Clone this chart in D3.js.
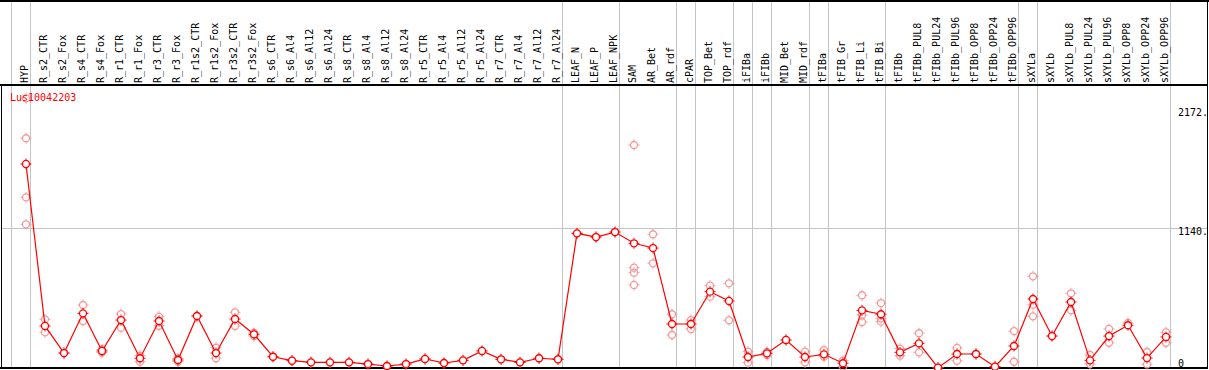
<!DOCTYPE html>
<html>
<head>
<meta charset="utf-8">
<script src="https://cdn.jsdelivr.net/npm/d3@7"></script>
<style>
  body { margin: 0; background: #fff; }
  svg { display: block; }
  text { font-family: "DejaVu Sans Mono", "Liberation Mono", monospace; font-size: 10px; }
</style>
</head>
<body>
<div id="chart"></div>
<script>

const width = 1209
const height = 370

const gene = "Lus10042203"

const samples = ["HYP", "R_s2_CTR", "R_s2_Fox", "R_s4_CTR", "R_s4_Fox", "R_r1_CTR", "R_r1_Fox",
    "R_r3_CTR", "R_r3_Fox", "R_r1s2_CTR", "R_r1s2_Fox", "R_r3s2_CTR", "R_r3s2_Fox",
    "R_s6_CTR", "R_s6_Al4", "R_s6_Al12", "R_s6_Al24", "R_s8_CTR", "R_s8_Al4", "R_s8_Al12", "R_s8_Al24",
    "R_r5_CTR", "R_r5_Al4", "R_r5_Al12", "R_r5_Al24", "R_r7_CTR", "R_r7_Al4", "R_r7_Al12", "R_r7_Al24",
    "LEAF_N", "LEAF_P", "LEAF_NPK", "SAM", "AR_Bet", "AR_rdf", "cPAR", "TOP_Bet", "TOP_rdf",
    "iFIBa", "iFIBb", "MID_Bet", "MID_rdf", "tFIBa", "tFIB_Gr", "tFIB_Li", "tFIB_Bi",
    "tFIBb", "tFIBb_PUL8", "tFIBb_PUL24", "tFIBb_PUL96", "tFIBb_OPP8", "tFIBb_OPP24", "tFIBb_OPP96",
    "sXYLa", "sXYLb", "sXYLb_PUL8", "sXYLb_PUL24", "sXYLb_PUL96", "sXYLb_OPP8", "sXYLb_OPP24", "sXYLb_OPP96"]

// mean expression per sample
const means = [1693, 294, 60, 403, 78, 345, 15,
    337, 0, 380, 60, 354, 222,
    28, -6, -20, -20, -20, -35, -52, -35,
    9, -26, -3, 78, 6, -20, 15, 6,
    1094, 1062, 1105, 1008, 967, 311, 311, 590, 510,
    26, 58, 173, 26, 49, -28, 429, 395,
    66, 144, -66, 52, 52, -58, 121,
    527, 207, 501, -3, 207, 300, 17, 199]

// single replicates (drawn faint)
const replicates = [
    [2260, 1915, 1405, 1172], [351, 239], [60], [475, 337], [91, 65], [397, 279], [37, -15],
    [374, 296], [13, -13], [380], [106, 15], [412, 294], [233, 207],
    [28], [-6], [-20], [-20], [-20], [-35], [-52], [-35],
    [9], [-26], [-3], [78], [6], [-20], [15], [6],
    [1094], [1062], [1105], [1857, 797, 754, 648], [1086, 835], [395, 216], [345, 268], [642, 547], [662, 343],
    [72, -23], [69, 43], [173], [72, -20], [86, 28], [-6, -58], [559, 389, 328], [492, 360, 331],
    [98, 37], [231, 66], [-66], [104, -6], [52], [-58], [250, -15],
    [723, 478, 377], [207], [576, 429], [43, -35], [268, 149], [320], [69, -37], [239, 149]]

// index of last sample in each group (-1 = left edge)
const groupEnds = [-1, 0, 28, 31, 34, 35, 37, 38, 39, 41, 42, 45, 52, 53, 60]

const yTicks = [2172, 1140, 0]

const headerH = 85
const plotBottom = 368

const x = d3.scalePoint()
    .domain(samples)
    .range([26, 1166])

const y = d3.scaleLinear()
    .domain([0, 1140])
    .range([360, 228])

const svg = d3.select("#chart")
    .append("svg")
    .attr("width", width)
    .attr("height", height)

const sepX = i => i < 0 ? x(samples[0]) - x.step() + 4.5 : x(samples[i]) + 4.5

// vertical group separators
svg.selectAll(".sep")
    .data(groupEnds)
    .enter()
    .append("line")
    .attr("x1", d => sepX(d))
    .attr("x2", d => sepX(d))
    .attr("y1", 0)
    .attr("y2", plotBottom)
    .attr("stroke", "#c4c4c4")
    .attr("stroke-width", 1)
    .attr("shape-rendering", "crispEdges")

// gridline at 1140
svg.append("line")
    .attr("x1", 1)
    .attr("x2", 1208)
    .attr("y1", Math.round(y(1140)) + 0.5)
    .attr("y2", Math.round(y(1140)) + 0.5)
    .attr("stroke", "#c4c4c4")
    .attr("shape-rendering", "crispEdges")

// frame
const frame = svg.append("g")
    .attr("stroke", "#000")
    .attr("stroke-width", 1.5)
    .attr("shape-rendering", "crispEdges")
frame.append("line").attr("x1", 0).attr("x2", width).attr("y1", 0.75).attr("y2", 0.75)
frame.append("line").attr("x1", 0).attr("x2", 1208).attr("y1", headerH).attr("y2", headerH)
frame.append("line").attr("x1", 0).attr("x2", 1208).attr("y1", plotBottom).attr("y2", plotBottom)
frame.append("line").attr("x1", 1.5).attr("x2", 1.5).attr("y1", headerH).attr("y2", plotBottom)
frame.append("line").attr("x1", 1207.5).attr("x2", 1207.5).attr("y1", 0).attr("y2", plotBottom)

// sample names, rotated
svg.selectAll(".lab")
    .data(samples)
    .enter()
    .append("text")
    .attr("transform", d => "translate(" + (x(d) + 1.5) + ", 83) rotate(-90)")
    .attr("fill", "#000")
    .text(d => d)

// y labels on the right
svg.selectAll(".ylab")
    .data(yTicks)
    .enter()
    .append("text")
    .attr("x", 1178)
    .attr("y", d => y(d) + 7)
    .attr("fill", "#000")
    .text(d => d === 0 ? "0" : d + ".")

// marker: circle with small ticks
const marker = (g, color, fill) => {
    g.append("circle")
        .attr("r", 3.5)
        .attr("fill", fill)
        .attr("stroke", color)
        .attr("stroke-width", 1.3)
    g.append("path")
        .attr("d", "M0,-4V-5.5M0,4V5.5M-4,0H-5.5M4,0H5.5")
        .attr("stroke", color)
        .attr("stroke-width", 1)
}

// replicates
const reps = []
replicates.forEach((r, i) => r.forEach(v => reps.push({ s: samples[i], v: v })))

svg.selectAll(".rep")
    .data(reps)
    .enter()
    .append("g")
    .attr("transform", d => "translate(" + x(d.s) + "," + y(d.v) + ")")
    .each(function () { marker(d3.select(this), "#f29a9a", "none") })

// mean line
const line = d3.line()
    .x((d, i) => x(samples[i]))
    .y(d => y(d))

svg.append("path")
    .datum(means)
    .attr("d", line)
    .attr("fill", "none")
    .attr("stroke", "#ff0000")
    .attr("stroke-width", 1.2)

svg.selectAll(".mean")
    .data(means)
    .enter()
    .append("g")
    .attr("transform", (d, i) => "translate(" + x(samples[i]) + "," + y(d) + ")")
    .each(function () { marker(d3.select(this), "#ff0000", "#fff") })

// gene name
svg.append("text")
    .attr("x", 10)
    .attr("y", 101)
    .attr("fill", "#ff0000")
    .text(gene)

</script>
</body>
</html>
